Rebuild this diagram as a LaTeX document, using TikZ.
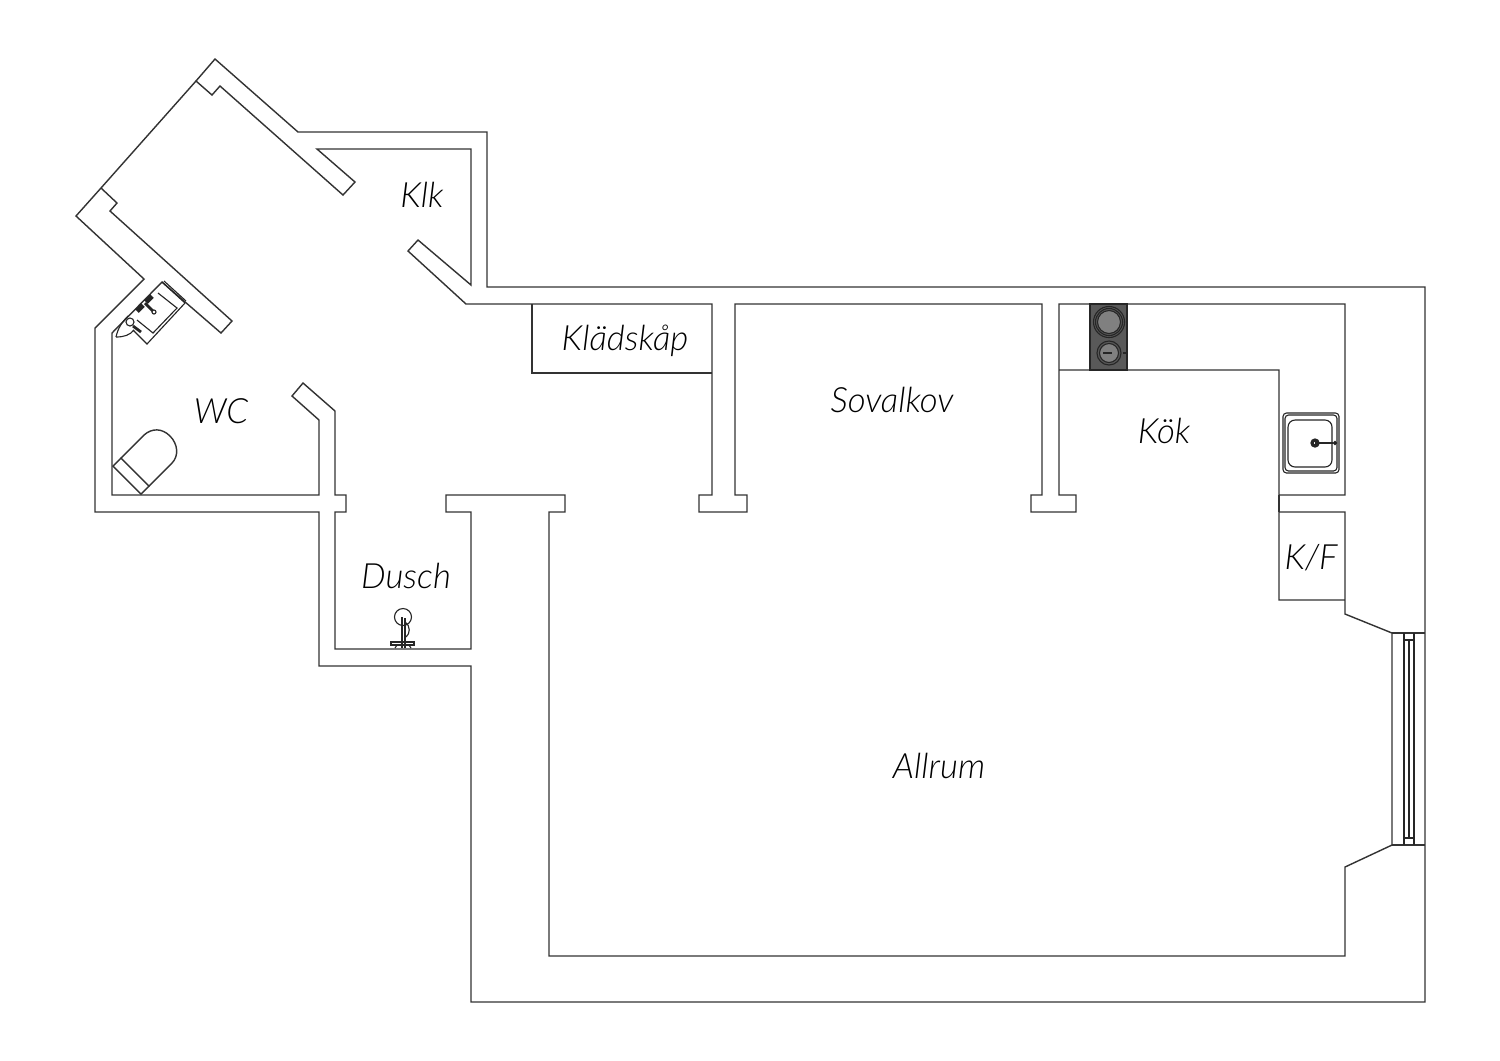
\documentclass[tikz,border=0pt]{standalone}
\usepackage{fontspec}
\setmainfont{Lato}[ItalicFont={Lato Light Italic}]
\usepackage{tikz}
\tikzset{wl/.style={draw=black!80,line width=0.4pt,line join=miter}}
\tikzset{fx/.style={draw=black!85,line width=0.32pt}}
\tikzset{rm/.style={font=\fontsize{9.9}{9.9}\selectfont\itshape,text=black,inner sep=0pt}}

\begin{document}
\begin{tikzpicture}[x=0.1mm,y=-0.1mm]
        \useasboundingbox (0,0) rectangle (1500,1060);
        \fill[white] (0,0) rectangle (1500,1060);
        \draw[wl] (196,81) -- (215,59) -- (298,132) -- (487,132) -- (487,287) -- (1425,287)
          -- (1425,1002) -- (471,1002) -- (471,666) -- (319,666) -- (319,512) -- (95,512)
          -- (95,328) -- (144,279) -- (76,216) -- (101,188);
        \draw[wl] (101,188) -- (196,81) -- (212,95) -- (220,86) -- (343,195) -- (355,182)
          -- (317,149) -- (471,149) -- (471,285) -- (418,240) -- (408,251) -- (466,304)
          -- (712,304) -- (712,495) -- (699,495) -- (699,512) -- (747,512) -- (747,495)
          -- (735,495) -- (735,304) -- (1042,304) -- (1042,495) -- (1031,495) -- (1031,512)
          -- (1076,512) -- (1076,495) -- (1059,495) -- (1059,304) -- (1345,304) -- (1345,495)
          -- (1279,495) -- (1279,370) -- (1059,370);
        \draw[wl] (101,188) -- (117,203) -- (110,211) -- (232,321) -- (221,333) -- (162,282)
          -- (112,333) -- (112,495) -- (319,495) -- (319,420) -- (292,396) -- (303,383)
          -- (335,411) -- (335,495) -- (346,495) -- (346,512) -- (335,512) -- (335,649)
          -- (471,649) -- (471,512) -- (446,512) -- (446,495) -- (565,495) -- (565,512)
          -- (549,512) -- (549,956) -- (1345,956) -- (1345,867) -- (1392,845) -- (1392,633)
          -- (1345,614) -- (1345,512) -- (1279,512) -- (1279,600) -- (1345,600);
        \draw[wl] (1279,495) -- (1279,512);
        \draw[wl] (532,304) -- (532,373) -- (712,373);
        \draw[wl] (1392,633) -- (1425,633);
        \draw[wl] (1392,845) -- (1425,845);
        \draw[fx] (1404,633) -- (1404,845);
        \draw[fx] (1414,633) -- (1414,845);
        \draw[fx] (1409,640) -- (1409,838);
        \draw[fx] (1404,640) -- (1414,640);
        \draw[fx] (1404,838) -- (1414,838);
        \draw[fx,fill=black!65] (1090,304) rectangle (1127,370);
        \foreach \r/\c in {15.5/black!65,13.5/black!65,11.5/black!50}
          \draw[fx,fill=\c] (1109,322) circle[radius=\r*0.1mm];
        \foreach \r/\c in {12/black!65,9.5/black!50}
          \draw[fx,fill=\c] (1109,353) circle[radius=\r*0.1mm];
        \draw[fx] (1103,353) -- (1112,353);
        \draw[fx] (1123,353) -- (1127,353);
        \draw[fx,rounded corners=1pt] (1283,413) rectangle (1339,473);
        \draw[fx,rounded corners=1pt] (1285,415) rectangle (1337,471);
        \draw[fx,rounded corners=2pt] (1288,420) rectangle (1332,467);
        \draw[fx,line width=0.9pt] (1315,443) circle[radius=0.3mm];
        \draw[fx,line width=0.8pt] (1315,443) -- (1333,443);
        \draw[fx,fill=black] (1335,443) circle[radius=0.15mm];
        \draw[wl] (113,466) -- (141,494) -- (149,486) -- (121,458) -- cycle;
        \draw[wl] (121,458) -- (144,435) .. controls (152,428) and (162,428) .. (170,436)
          .. controls (178,444) and (179,456) .. (172,463) -- (149,486);
        \draw[fx] (185,303) -- (147,344) -- (133,330);
        \draw[fx] (162,282) -- (185,303);
        \draw[fx] (164,281) -- (186,301);
        \draw[fx] (158,293) -- (177,308) -- (153,333) -- (137,320);
        \draw[fx,line width=1.5pt] (137,311) -- (143,305);
        \draw[fx,line width=1.5pt] (146,302) -- (152,296);
        \draw[fx,line width=0.8pt] (145,303) -- (154,312);
        \draw[fx,fill=white] (154,312) circle[radius=0.2mm];
        \draw[fx] (116,337) .. controls (118,328) and (122,322) .. (128,316);
        \draw[fx] (116,337) .. controls (124,337) and (130,335) .. (134,330);
        \draw[fx,fill=white] (130,322) circle[radius=0.4mm];
        \draw[fx,line width=0.8pt] (133,326) -- (141,332);
        \draw[fx] (403,617) circle[radius=0.85mm];
        \draw[fx,line width=0.6pt] (402,617) -- (402,648);
        \draw[fx] (405,618) -- (405,648);
        \draw[fx] (405,622) .. controls (411,626) and (410,634) .. (406,637);
        \draw[fx] (391,642) rectangle (414,645);
        \draw[fx] (395,648) -- (397,645);
        \draw[fx] (411,648) -- (409,645);
        \node[rm] (klk) at (422,195) {Klk};
        \node[rm] (kladskap) at (625,341) {Klädskåp};
        \node[rm] (sovalkov) at (892,400) {Sovalkov};
        \node[rm] (kok) at (1164,431) {Kök};
        \node[rm] (wc) at (221,411) {WC};
        \node[rm] (dusch) at (406,576) {Dusch};
        \node[rm] (kf) at (1311,558) {K/F};
        \node[rm] (allrum) at (939,766) {Allrum};
      \end{tikzpicture}
\end{document}
